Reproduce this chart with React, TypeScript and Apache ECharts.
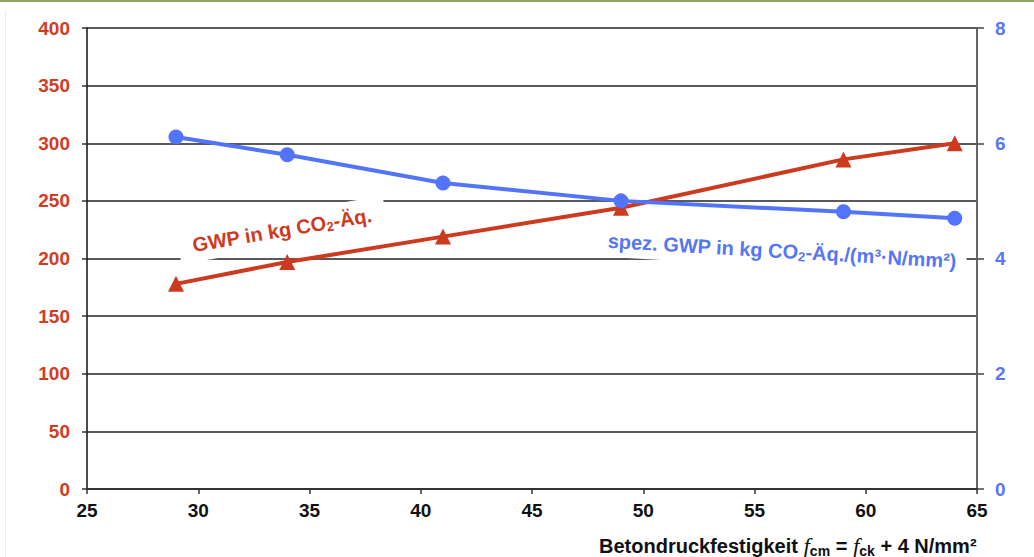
import React, { useEffect, useRef } from "react";
import * as echarts from "echarts";

// Concrete strength classes (f_cm in N/mm²)
const strength = [29, 34, 41, 49, 59, 64];
// GWP in kg CO2-eq. per m³ concrete (left axis)
const gwp = [178, 197, 219, 244, 286, 300];
// specific GWP in kg CO2-eq./(m³·N/mm²) (right axis)
const gwpSpecific = [6.11, 5.8, 5.31, 5.0, 4.81, 4.7];

const RED = "#cc3b1f";
const BLUE = "#5274fa";
const FONT = "Liberation Sans, Arial, sans-serif";

export default function App() {
  const ref = useRef<HTMLDivElement>(null);

  useEffect(() => {
    if (!ref.current) return;
    const chart = echarts.init(ref.current, undefined, { renderer: "svg" });
    const sub = { fontSize: 13, fontWeight: "bold", fontFamily: FONT, padding: [9, 0, 0, 0] };
    chart.setOption({
      animation: false,
      backgroundColor: "#ffffff",
      grid: { left: 87, right: 57, top: 28, bottom: 68, containLabel: false },
      xAxis: {
        type: "value",
        min: 25,
        max: 65,
        interval: 5,
        axisLine: { show: true, lineStyle: { color: "#333", width: 2 } },
        axisTick: { show: true, length: 5, lineStyle: { color: "#333", width: 1.5 } },
        splitLine: { show: false },
        axisLabel: { color: "#111", fontSize: 19, fontWeight: "bold", fontFamily: FONT, margin: 12 },
      },
      yAxis: [
        {
          type: "value",
          min: 0,
          max: 400,
          interval: 50,
          position: "left",
          axisLine: { show: true, lineStyle: { color: "#111", width: 1.5 } },
          axisTick: { show: true, length: 5, lineStyle: { color: "#333", width: 1.5 } },
          splitLine: { show: true, lineStyle: { color: "#222", width: 1.5 } },
          axisLabel: { color: "#d13c22", fontSize: 19, fontWeight: "bold", fontFamily: FONT, margin: 17 },
        },
        {
          type: "value",
          min: 0,
          max: 8,
          interval: 2,
          position: "right",
          axisLine: { show: true, lineStyle: { color: "#666", width: 2 } },
          axisTick: { show: true, length: 7, lineStyle: { color: "#444", width: 1.5 } },
          splitLine: { show: false },
          axisLabel: { color: "#5a78f5", fontSize: 19, fontWeight: "bold", fontFamily: FONT, margin: 18 },
        },
      ],
      series: [
        {
          type: "line",
          yAxisIndex: 0,
          data: strength.map((x, i) => [x, gwp[i]]),
          symbol: "triangle",
          symbolSize: 16,
          lineStyle: { color: RED, width: 4 },
          itemStyle: { color: RED },
          z: 3,
        },
        {
          type: "line",
          yAxisIndex: 1,
          data: strength.map((x, i) => [x, gwpSpecific[i]]),
          symbol: "circle",
          symbolSize: 15,
          lineStyle: { color: BLUE, width: 4 },
          itemStyle: { color: BLUE },
          z: 4,
        },
      ],
      graphic: [
        { type: "rect", left: 0, top: 0, shape: { width: 1034, height: 2 }, style: { fill: "#8ca366" }, z: 10 },
        { type: "line", shape: { x1: 5.5, y1: 10, x2: 5.5, y2: 557 }, style: { stroke: "#ececec", lineWidth: 1 } },
        {
          type: "text",
          x: 282,
          y: 230,
          rotation: 0.168,
          z: 1,
          style: {
            rich: {
              a: { fontSize: 20, fontWeight: "bold", fontFamily: FONT, fill: RED },
              s: { ...sub, fill: RED },
            },
            text: "{a|GWP in kg CO}{s|2}{a|-Äq.}",
            align: "center",
            verticalAlign: "middle",
            backgroundColor: "#ffffff",
            padding: [6, 14, 6, 14],
          },
        },
        {
          type: "text",
          x: 782,
          y: 251,
          rotation: -0.058,
          z: 1,
          style: {
            rich: {
              a: { fontSize: 20, fontWeight: "bold", fontFamily: FONT, fill: "#5676f2" },
              s: { ...sub, fill: "#5676f2" },
            },
            text: "{a|spez. GWP in kg CO}{s|2}{a|-Äq./(m³·N/mm²)}",
            align: "center",
            verticalAlign: "middle",
            backgroundColor: "#ffffff",
            padding: [5, 10, 5, 10],
          },
        },
        {
          type: "text",
          x: 599,
          y: 546,
          z: 5,
          style: {
            rich: {
              a: { fontSize: 20, fontWeight: "bold", fontFamily: FONT, fill: "#111" },
              f: { fontSize: 23, fontStyle: "italic", fontFamily: "Liberation Serif, serif", fill: "#111" },
              s: { ...sub, fontSize: 14, fill: "#111" },
            },
            text: "{a|Betondruckfestigkeit }{f|f}{s|cm}{a| = }{f|f}{s|ck}{a| + 4 N/mm²}",
            align: "left",
            verticalAlign: "middle",
          },
        },
      ],
    });
    return () => chart.dispose();
  }, []);

  return (
    <div
      ref={ref}
      style={{ position: "absolute", left: 0, top: 0, width: 1034, height: 557 }}
    />
  );
}
